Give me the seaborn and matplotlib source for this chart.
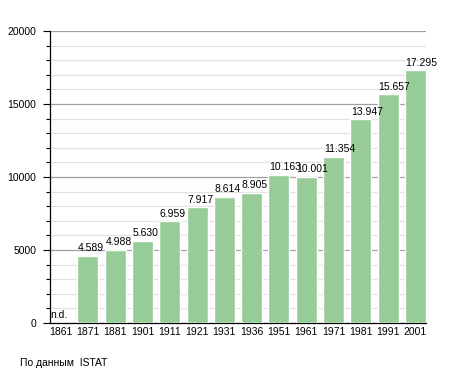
import matplotlib
matplotlib.use("Agg")
import matplotlib.pyplot as plt
from matplotlib.ticker import MultipleLocator
import seaborn as sns
import pandas as pd
import numpy as np

years = ["1861", "1871", "1881", "1901", "1911", "1921", "1931", "1936",
         "1951", "1961", "1971", "1981", "1991", "2001"]
population = [0, 4589, 4988, 5630, 6959, 7917, 8614, 8905,
              10163, 10001, 11354, 13947, 15657, 17295]
labels = ["n.d.", "4.589", "4.988", "5.630", "6.959", "7.917", "8.614", "8.905",
          "10.163", "10.001", "11.354", "13.947", "15.657", "17.295"]
source = "По данным  ISTAT"

sns.set_theme(style="white")
plt.rcParams['font.family'] = ['Liberation Sans', 'DejaVu Sans']

df = pd.DataFrame({"year": years, "pop": population})

fig = plt.figure(figsize=(4.55, 3.73), dpi=100)
ax = fig.add_axes([50/455, 1-323/373, (426-50)/455, (323-31)/373])

W = 0.77
sns.barplot(data=df, x="year", y="pop", order=years, color="#97CB97",
            saturation=1, width=W, ax=ax, zorder=3)

ax.set_ylim(0, 20000)
ax.set_xlim(-W/2, len(years) - 1 + W/2)
ax.yaxis.set_major_locator(MultipleLocator(5000))
ax.yaxis.set_minor_locator(MultipleLocator(1000))
ax.grid(which="major", axis="y", color="#a0a0a0", linewidth=0.9, zorder=0)
ax.grid(which="minor", axis="y", color="#e2e2e2", linewidth=0.9, zorder=0)
ax.set_axisbelow(True)

for s in ["top", "right"]:
    ax.spines[s].set_visible(False)
for s in ["left", "bottom"]:
    ax.spines[s].set_color("black")
    ax.spines[s].set_linewidth(0.9)

ax.tick_params(axis="y", which="major", length=5, width=0.8, color="black",
               left=True, labelsize=7.5, pad=5, labelcolor="black")
ax.tick_params(axis="y", which="minor", length=3, width=0.8, color="black", left=True)
ax.tick_params(axis="x", length=0, labelsize=7.5, pad=3, labelcolor="black")
ax.set_xlabel("")
ax.set_ylabel("")

for i, (v, lab) in enumerate(zip(population, labels)):
    ax.annotate(lab, xy=(i - W/2, v), xytext=(0.5, 3.5), textcoords="offset points",
                ha="left", va="baseline", fontsize=7.5, color="black", zorder=5)

fig.text(20/455, 1-366/373, source, fontsize=7.5, ha="left", va="baseline", color="black")

fig.savefig("out.png", dpi=100)
